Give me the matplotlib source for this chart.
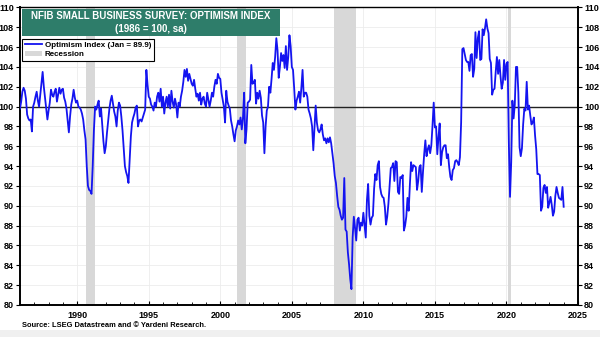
# -*- coding:utf-8 -*-
import numpy as np
import matplotlib
matplotlib.use("Agg")
import matplotlib.pyplot as plt
from matplotlib.patches import Rectangle, Patch
from matplotlib.lines import Line2D

# monthly NFIB optimism index (1986 = 100, sa)
v1986 = [99.8, 100.5, 101.5, 101.9, 101.6, 100.8, 99.2, 98.8, 98.6, 98.7, 97.5, 100.0]
v1987 = [100.4, 101.0, 101.5, 100.6, 100.0, 101.2, 102.5, 103.5, 102.0, 100.9, 99.8, 98.7]
v1988 = [99.6, 100.4, 101.7, 101.2, 101.0, 101.5, 101.8, 100.5, 101.2, 101.9, 101.3, 101.7]
v1989 = [101.8, 100.9, 100.5, 99.8, 98.6, 97.4, 99.0, 100.2, 100.8, 101.7, 100.9, 100.4]
v1990 = [100.6, 100.0, 99.9, 99.7, 99.3, 98.7, 97.6, 96.7, 94.0, 92.0, 91.6, 91.5]
v1991 = [91.2, 94.0, 97.6, 100.0, 99.7, 100.2, 100.6, 99.0, 99.8, 98.2, 96.5, 95.3]
v1992 = [96.0, 97.4, 98.6, 99.8, 100.6, 101.1, 100.3, 99.5, 99.0, 98.0, 99.6, 100.4]
v1993 = [100.1, 99.0, 97.6, 95.8, 94.0, 93.4, 93.0, 92.3, 94.6, 97.0, 98.4, 98.9]
v1994 = [99.3, 99.9, 100.1, 98.0, 98.6, 98.7, 98.5, 98.9, 99.3, 99.7, 103.7, 102.2]
v1995 = [101.0, 100.8, 100.2, 100.0, 99.6, 100.4, 100.0, 101.0, 101.4, 100.5, 101.8, 100.0]
v1996 = [101.0, 99.3, 100.4, 101.0, 100.0, 101.2, 99.8, 101.6, 100.5, 99.9, 100.8, 100.2]
v1997 = [98.9, 100.4, 100.0, 101.0, 101.6, 102.5, 103.7, 103.0, 103.8, 102.6, 103.3, 102.8]
v1998 = [102.3, 102.1, 102.7, 101.8, 101.0, 101.3, 100.6, 101.4, 100.2, 100.8, 101.0, 100.3]
v1999 = [100.0, 101.4, 100.7, 100.0, 100.6, 101.4, 101.0, 102.0, 102.7, 102.3, 103.3, 102.9]
v2000 = [102.8, 101.4, 100.7, 100.0, 98.4, 101.6, 100.5, 100.1, 99.8, 98.6, 98.0, 97.2]
v2001 = [96.5, 97.6, 98.0, 98.6, 98.2, 98.9, 97.7, 98.8, 101.4, 96.3, 97.7, 100.4]
v2002 = [100.5, 100.7, 104.2, 102.3, 102.4, 102.7, 100.3, 101.4, 100.8, 101.6, 100.9, 99.1]
v2003 = [98.4, 95.3, 98.0, 99.6, 100.0, 102.0, 101.4, 102.8, 104.4, 103.7, 105.0, 106.9]
v2004 = [105.7, 102.9, 104.0, 105.4, 104.6, 105.2, 103.9, 106.1, 103.7, 105.0, 107.2, 106.1]
v2005 = [104.0, 103.7, 101.8, 99.7, 100.6, 101.0, 101.5, 100.4, 101.9, 103.7, 101.0, 101.4]
v2006 = [101.4, 101.0, 99.7, 99.3, 98.8, 98.0, 95.6, 97.8, 100.1, 98.4, 97.6, 97.4]
v2007 = [97.7, 98.2, 97.2, 96.6, 96.8, 96.3, 96.8, 96.4, 96.9, 96.3, 95.3, 94.3]
v2008 = [93.0, 92.3, 91.0, 89.9, 89.6, 89.0, 88.6, 88.8, 92.8, 87.6, 87.4, 85.3]
v2009 = [84.1, 82.6, 81.6, 86.8, 88.9, 87.8, 86.5, 88.6, 88.8, 87.5, 88.3, 88.0]
v2010 = [89.3, 88.0, 86.8, 90.6, 92.2, 89.0, 88.1, 88.8, 89.0, 91.7, 93.2, 92.6]
v2011 = [94.1, 94.5, 91.9, 91.2, 90.9, 90.8, 89.9, 88.1, 88.9, 90.2, 92.0, 93.8]
v2012 = [93.9, 94.3, 92.5, 94.5, 94.4, 91.4, 91.2, 92.9, 92.8, 93.1, 87.5, 88.0]
v2013 = [88.9, 90.8, 89.5, 92.1, 94.4, 93.5, 94.1, 94.0, 93.9, 91.6, 92.5, 93.9]
v2014 = [94.1, 91.4, 93.4, 95.2, 96.6, 95.0, 95.7, 96.1, 95.3, 96.1, 98.1, 100.4]
v2015 = [97.9, 98.0, 95.2, 96.9, 98.3, 94.1, 95.4, 95.9, 96.1, 96.1, 94.8, 95.2]
v2016 = [93.9, 92.9, 92.6, 93.6, 93.8, 94.5, 94.6, 94.4, 94.1, 94.9, 98.4, 105.8]
v2017 = [105.9, 105.3, 104.7, 104.5, 104.5, 103.6, 105.2, 105.3, 103.0, 103.8, 107.5, 104.9]
v2018 = [106.9, 107.6, 104.7, 104.8, 107.8, 107.2, 107.9, 108.8, 107.9, 107.4, 104.8, 104.4]
v2019 = [101.2, 101.7, 101.8, 103.5, 105.0, 103.3, 104.7, 103.1, 101.8, 102.4, 104.7, 102.7]
v2020 = [104.3, 104.5, 96.4, 90.9, 94.4, 100.6, 98.8, 100.2, 104.0, 104.0, 101.4, 95.9]
v2021 = [95.0, 95.8, 98.2, 99.8, 99.6, 102.5, 99.7, 100.1, 99.1, 98.2, 98.4, 98.9]
v2022 = [97.1, 95.7, 93.2, 93.2, 93.1, 89.5, 89.9, 91.8, 92.1, 91.3, 91.9, 89.8]
v2023 = [90.3, 90.9, 90.1, 89.0, 89.4, 91.0, 91.9, 91.3, 90.8, 90.7, 90.6, 91.9]
v2024 = [89.9]

# recession periods (decimal years)
rec_start = [1990.58, 2001.17, 2007.92, 2020.12]
rec_end = [1991.21, 2001.83, 2009.46, 2020.29]

x_ticks = [1990, 1995, 2000, 2005, 2010, 2015, 2020, 2025]
y_ticks = list(range(80, 111, 2))

values = np.array(v1986 + v1987 + v1988 + v1989 + v1990 + v1991 + v1992 + v1993 +
                  v1994 + v1995 + v1996 + v1997 + v1998 + v1999 + v2000 + v2001 +
                  v2002 + v2003 + v2004 + v2005 + v2006 + v2007 + v2008 + v2009 +
                  v2010 + v2011 + v2012 + v2013 + v2014 + v2015 + v2016 + v2017 +
                  v2018 + v2019 + v2020 + v2021 + v2022 + v2023 + v2024)
dates = 1986 + np.arange(len(values)) / 12.0

plt.rcParams['font.family'] = ['Liberation Sans', 'DejaVu Sans']
plt.rcParams['font.weight'] = 'bold'

fig = plt.figure(figsize=(6.0, 3.37), dpi=100)
fig.patch.set_facecolor('white')
# light grey strip at bottom of picture
fig.patches.append(Rectangle((0, 0), 1, 0.02, transform=fig.transFigure,
                             facecolor='#f0f0f0', edgecolor='none', zorder=0))

ax = fig.add_axes([0.0333, 0.095, 0.93, 0.883])
ax.set_xlim(1986, 2025)
ax.set_ylim(80, 110)

for s, e in zip(rec_start, rec_end):
    ax.axvspan(s, e, color='#d8d8d8', lw=0, zorder=1)

ax.set_yticks(y_ticks)
ax.set_xticks(x_ticks)
ax.set_xticks(range(1987, 2025), minor=True)
ax.grid(True, which='major', color='#ececec', lw=0.6, zorder=0)
ax.set_axisbelow(True)

ax.axhline(100, color='#222222', lw=1.0, zorder=2)
ax.plot(dates, values, color='#1414f0', lw=1.3, zorder=3)

ax.tick_params(axis='y', which='both', labelsize=6.5, length=3, direction='out',
               left=True, right=True, labelleft=True, labelright=True, pad=1.5)
ax.tick_params(axis='x', which='major', labelsize=6.5, length=3, direction='in', pad=4)
ax.tick_params(axis='x', which='minor', length=2, direction='in')
for lab in ax.get_xticklabels() + ax.get_yticklabels():
    lab.set_fontweight('bold')
for sp in ax.spines.values():
    sp.set_color('black')
    sp.set_linewidth(1.0)
ax.spines['left'].set_linewidth(1.4)
ax.spines['bottom'].set_linewidth(1.4)
ax.spines['right'].set_linewidth(1.4)

# title box
ax.add_patch(Rectangle((0.004, 0.905), 0.462, 0.09, transform=ax.transAxes,
                       facecolor='#2e7d6a', edgecolor='none', zorder=5))
ax.text(0.235, 0.950, "NFIB SMALL BUSINESS SURVEY: OPTIMISM INDEX\n(1986 = 100, sa)",
        transform=ax.transAxes, ha='center', va='center', color='white',
        fontsize=7, fontweight='bold', linespacing=1.35, zorder=6)

handles = [Line2D([0], [0], color='#1414f0', lw=1.3),
           Patch(facecolor='#d8d8d8', edgecolor='none')]
leg = ax.legend(handles, ["Optimism Index (Jan = 89.9)", "Recession"],
                loc='upper left', bbox_to_anchor=(0.004, 0.893), fontsize=5.8,
                frameon=True, fancybox=False, edgecolor='black', framealpha=1,
                borderpad=0.3, labelspacing=0.15, handlelength=2.1,
                handleheight=0.7, handletextpad=0.4, borderaxespad=0)
leg.get_frame().set_linewidth(0.8)
for t in leg.get_texts():
    t.set_fontweight('bold')
leg.set_zorder(6)

fig.text(0.037, 0.035, "Source: LSEG Datastream and \u00a9 Yardeni Research.",
         fontsize=5.4, fontweight='bold', ha='left', va='center')

plt.savefig("out.png", dpi=100)
plt.close(fig)
